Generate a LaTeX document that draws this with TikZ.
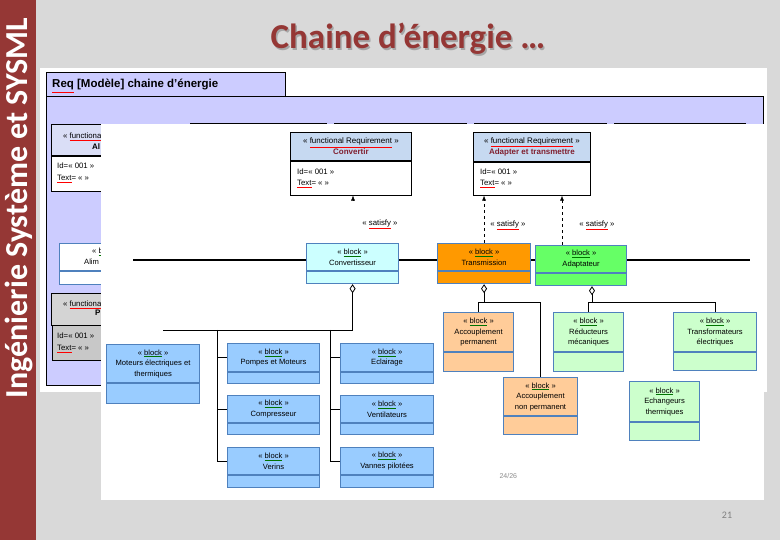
\documentclass[tikz,border=0pt]{standalone}
\usepackage{fontspec}
\setmainfont{Carlito}
\newfontfamily\diafont{Liberation Sans}
\usepackage{xcolor}
\definecolor{slidered}{RGB}{149,55,53}
\definecolor{slidegray}{RGB}{217,217,217}
\definecolor{reqlav}{RGB}{204,204,255}
\definecolor{reqhead}{RGB}{198,217,241}
\definecolor{reqhead2}{RGB}{218,222,246}
\definecolor{reqname}{RGB}{128,32,48}
\definecolor{reqgray}{RGB}{212,212,212}
\definecolor{reqgray2}{RGB}{200,200,200}
\definecolor{blkline}{RGB}{79,129,189}
\definecolor{blkcyan}{RGB}{204,255,255}
\definecolor{blkorange}{RGB}{255,153,0}
\definecolor{blkgreen}{RGB}{102,255,102}
\definecolor{blkblue}{RGB}{153,204,255}
\definecolor{blksalmon}{RGB}{255,204,153}
\definecolor{blkmint}{RGB}{204,255,204}
\usetikzlibrary{arrows.meta, positioning, calc}

% underline in a colour of its own (spell checker marks)
\newcommand{\squig}[2]{{\colorlet{sqtxt}{.}\color{#1}$\underline{\hbox{\color{sqtxt}#2}}$}}
\newcommand{\stereo}{« \squig{green!45!black}{block} »}

\tikzset{
  blkhead/.style={draw=blkline, line width=1.1pt, anchor=north west, align=center,
                  inner sep=0pt, font=\diafont\fontsize{7.6}{10.5}\selectfont},
  blkcomp/.style={draw=blkline, line width=1.1pt, anchor=north west, inner sep=0pt},
  reqhd/.style={draw=black, line width=0.8pt, anchor=north west, align=center,
                inner sep=0pt, font=\diafont\fontsize{8}{11}\selectfont},
  reqbd/.style={draw=black, line width=0.8pt, anchor=north west, inner sep=0pt, fill=white},
  reqtext/.style={font=\diafont\fontsize{7.8}{9}\selectfont, anchor=base west, inner sep=0pt},
  aggr/.style={{Diamond[open, length=9pt, width=6pt]}-, black, line width=0.8pt},
  tree/.style={black, line width=0.8pt},
  satisfy/.style={-{Latex[length=5pt, width=4pt]}, dashed, black, line width=0.6pt},
}

% block with its empty compartment below
\newcommand{\sysblock}[8]{%
  \node[blkhead, fill=#7, minimum width=#4pt, minimum height=#5pt] (#1) at (#2,#3) {#8};
  \node[blkcomp, fill=#7, minimum width=#4pt, minimum height=#6pt] (#1c) at (#1.south west) {};
}

\begin{document}
\begin{tikzpicture}[x=1pt, y=-1pt]
  \useasboundingbox (0,0) rectangle (780,540);
  % slide
  \fill[slidegray] (0,0) rectangle (780,540);
  \fill[slidered] (0,0) rectangle (36,540);
  \node[rotate=90, text=white, font=\bfseries\fontsize{32}{34}\selectfont] (side) at (19,208) {Ingénierie Système et SYSML};
  \node[anchor=base, text=black!35, font=\bfseries\fontsize{35}{37}\selectfont] at (409.5,50.5) {Chaine d’énergie …};
  \node[anchor=base, text=slidered, font=\bfseries\fontsize{35}{37}\selectfont] (title) at (408,49) {Chaine d’énergie …};

  % back screenshot
  \fill[white] (40,68) rectangle (767,392);
  \draw[black, line width=0.8pt, fill=reqlav] (46,96) rectangle (763,385);
  \node[draw=black, line width=0.8pt, fill=reqlav, anchor=north west, minimum width=239pt,
        minimum height=24pt, inner sep=0pt] (reqhdr) at (46,72) {};
  \node[anchor=base west, inner sep=0pt, font=\diafont\bfseries\fontsize{11.5}{13}\selectfont]
        (reqtitle) at (52,88) {\squig{red}{Req} [Modèle] chaine d’énergie};
  \foreach \xa/\xb in {190/326, 334/466, 474/606, 614/745}
    \draw[black, line width=0.8pt, fill=reqhead] (\xa,123) rectangle (\xb,180);
  \node[reqhd, fill=reqhead2, minimum width=132pt, minimum height=31pt] (ral) at (51,124) {};
  \node[reqbd, minimum width=132pt, minimum height=35pt] (ralb) at (ral.south west) {};
  \node[reqtext] (ral1) at (63,139) {« \squig{red}{functiona}};
  \node[reqtext, font=\diafont\bfseries\fontsize{8}{9}\selectfont] (ral2) at (92,150) {Al};
  \node[reqtext] (ral3) at (57,169) {Id=« 001 »};
  \node[reqtext] (ral4) at (57,181) {\squig{red}{Text}= « »};
  \node[blkhead, fill=white, minimum width=92pt, minimum height=27pt] (alm) at (59,243) {};
  \node[blkcomp, fill=white, minimum width=92pt, minimum height=13pt] (almc) at (alm.south west) {};
  \node[reqtext, font=\diafont\fontsize{7.6}{9}\selectfont] (alm1) at (92,254) {« \squig{green!45!black}{b}};
  \node[reqtext, font=\diafont\fontsize{7.6}{9}\selectfont] (alm2) at (84,265) {Alim};
  \node[reqhd, fill=reqgray, minimum width=132pt, minimum height=32pt] (rpr) at (51,293) {};
  \node[reqbd, fill=reqgray2, minimum width=130pt, minimum height=35pt] (rprb) at (52,325) {};
  \node[reqtext] (rpr1) at (63,307) {« \squig{red}{functiona}};
  \node[reqtext, font=\diafont\bfseries\fontsize{8}{9}\selectfont] (rpr2) at (95,316) {Pr};
  \node[reqtext] (rpr3) at (57,339) {Id=« 001 »};
  \node[reqtext] (rpr4) at (57,351) {\squig{red}{Text}= « »};

  % front screenshot
  \fill[white] (101,124) rectangle (764,500);
  % requirements
  \node[reqhd, fill=reqhead, minimum width=121pt, minimum height=28pt] (cvr) at (290,132)
        {« \squig{red}{functional Requirement} »\\{\bfseries\color{reqname}Convertir}};
  \node[reqbd, minimum width=121pt, minimum height=34pt] (cvrb) at (cvr.south west) {};
  \node[reqtext] (cvr1) at (297,175) {Id=« 001 »};
  \node[reqtext] (cvr2) at (297,186) {\squig{red}{Text}= « »};
  \node[reqhd, fill=reqhead, minimum width=117pt, minimum height=29pt] (adr) at (473,132)
        {« \squig{red}{functional Requirement} »\\{\bfseries\color{reqname}Adapter et transmettre}};
  \node[reqbd, minimum width=117pt, minimum height=33pt] (adrb) at (adr.south west) {};
  \node[reqtext] (adr1) at (480,175) {Id=« 001 »};
  \node[reqtext] (adr2) at (480,186) {\squig{red}{Text}= « »};

  % energy line
  \coordinate (busL) at (133,260);
  \coordinate (busR) at (750,260);
  \draw[black, line width=2.6pt] (busL) -- (busR);

  % blocks
  \sysblock{cv}{306}{243}{92}{27}{12}{blkcyan}{\stereo\\Convertisseur}
  \sysblock{tr}{437}{243}{93}{27}{12}{blkorange}{\stereo\\Transmission}
  \sysblock{ad}{535}{245}{91}{27}{12}{blkgreen}{\stereo\\Adaptateur}
  \sysblock{me}{106}{344}{93}{38}{20}{blkblue}{\stereo\\Moteurs électriques et\\thermiques}
  \sysblock{pm}{227}{343}{92}{28}{11}{blkblue}{\stereo\\Pompes et Moteurs}
  \sysblock{ec}{340}{343}{93}{28}{11}{blkblue}{\stereo\\Eclairage}
  \sysblock{co}{227}{395}{92}{27}{11}{blkblue}{\stereo\\Compresseur}
  \sysblock{ve}{340}{395}{93}{27}{11}{blkblue}{\stereo\\Ventilateurs}
  \sysblock{vr}{227}{447}{92}{27}{12}{blkblue}{\stereo\\Verins}
  \sysblock{vp}{340}{447}{93}{27}{12}{blkblue}{\stereo\\Vannes pilotées}
  \sysblock{ap}{443}{312}{70}{39}{19}{blksalmon}{\stereo\\Accouplement\\permanent}
  \sysblock{an}{503}{377}{74}{38}{18}{blksalmon}{\stereo\\Accouplement\\non permanent}
  \sysblock{rm}{553}{312}{70}{39}{19}{blkmint}{\stereo\\Réducteurs\\mécaniques}
  \sysblock{te}{673}{312}{83}{39}{18}{blkmint}{\stereo\\Transformateurs\\électriques}
  \sysblock{eh}{629}{381}{70}{40}{18}{blkmint}{\stereo\\Echangeurs\\thermiques}

  % satisfy links
  \coordinate (cvsat) at (353,201);
  \draw[-{Latex[length=5pt, width=4pt]}, black] (cvsat) -- (cvsat |- cvrb.south);
  \draw[satisfy] (tr.north) -- (tr.north |- adrb.south);
  \coordinate (adsat) at ($(ad.north west)+(27,0)$);
  \draw[satisfy] (adsat) -- (adsat |- adrb.south);
  \node[font=\diafont\fontsize{7.8}{9}\selectfont] (sat1) at (380,224) {« \squig{red}{satisfy} »};
  \node[font=\diafont\fontsize{7.8}{9}\selectfont] (sat2) at (508,225) {« \squig{red}{satisfy} »};
  \node[font=\diafont\fontsize{7.8}{9}\selectfont] (sat3) at (597,225) {« \squig{red}{satisfy} »};

  % Convertisseur parts
  \coordinate (cvbus) at (163,330);
  \draw[aggr] (cvc.south) |- (cvbus);
  \coordinate (cvj1) at (217,330);
  \coordinate (cvj2) at (330,330);
  \draw[tree] (cvj1) |- (vr.west);
  \draw[tree] (cvj1 |- pm.west) -- (pm.west);
  \draw[tree] (cvj1 |- co.west) -- (co.west);
  \draw[tree] (cvj2) |- (vp.west);
  \draw[tree] (cvj2 |- ec.west) -- (ec.west);
  \draw[tree] (cvj2 |- ve.west) -- (ve.west);
  % Transmission parts
  \coordinate (trbus) at (0,302);
  \draw[aggr] (trc.south) -- (trc.south |- trbus);
  \draw[tree] (ap.north) |- (an.north |- trbus) -- (an.north);
  % Adaptateur parts
  \coordinate (adagg) at ($(adc.south west)+(57,0)$);
  \draw[aggr] (adagg) -- (adagg |- trbus);
  \draw[tree] (rm.north) |- (te.north |- trbus) -- (te.north);

  \node[anchor=base west, text=black!45, font=\diafont\fontsize{7}{9}\selectfont] (pgfront) at (496,478) {24/26};
  \node[text=black!50, font=\fontsize{10}{12}\selectfont] (pgno) at (727,515) {21};
\end{tikzpicture}
\end{document}
